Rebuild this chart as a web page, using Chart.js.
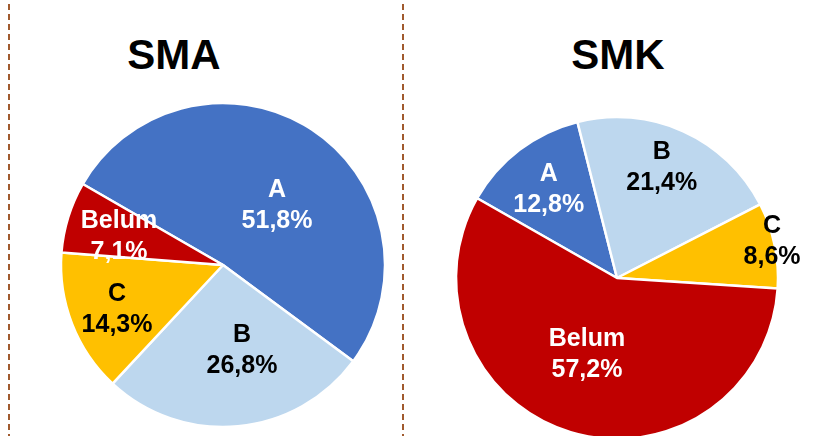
<!DOCTYPE html>
<html lang="id">
<head>
  <meta charset="UTF-8" />
  <title>SMA - SMK</title>
  <script src="https://cdn.jsdelivr.net/npm/chart.js"></script>
  <style>
    body {
      margin: 0;
      width: 822px;
      height: 436px;
      overflow: hidden;
      background: #fff;
      position: relative;
      font-family: "Liberation Sans", Arial, sans-serif;
    }
    .divider {
      position: absolute;
      top: 0;
      height: 436px;
      width: 2px;
      background: repeating-linear-gradient(to bottom, transparent 0 4px, #a05a2e 4px 10px);
    }
    .title {
      position: absolute;
      top: 34px;
      width: 200px;
      font-size: 42px;
      line-height: 42px;
      font-weight: bold;
      text-align: center;
      color: #000;
    }
    .pie {
      position: absolute;
      height: 340px;
    }
  </style>
</head>
<body>

  <div class="divider" style="left:8px"></div>
  <div class="divider" style="left:402px"></div>

  <div class="title" style="left:74px">SMA</div>
  <div class="title" style="left:518px">SMK</div>

  <div class="pie" style="left:53px; top:95px; width:340px"><canvas id="smaChart" width="340" height="340"></canvas></div>
  <div class="pie" style="left:447px; top:108px; width:375px"><canvas id="smkChart" width="375" height="340"></canvas></div>

  <script>
    // data
    const categories = ['A', 'B', 'C', 'Belum'];
    const smaValues = [51.8, 26.8, 14.3, 7.1];
    const smkValues = [12.8, 21.4, 8.6, 57.2];

    const sliceColors = ['#4472C4', '#BDD7EE', '#FFC000', '#C00000'];
    const textColors = ['#ffffff', '#000000', '#000000', '#ffffff'];

    // label placement: [fraction of radius, angle shift in degrees from mid angle]
    const smaLabelPlace = [[0.465, 12.6], [0.583, -6.3], [0.726, -4.4], [0.656, -5.3]];
    const smkLabelPlace = [[0.66, -2.7], [0.70, -0.9], [0.98, 1.1], [0.55, 3.1]];

    const fmt = v => v.toFixed(1).replace('.', ',') + '%';

    const pieLabels = {
      id: 'pieLabels',
      afterDatasetsDraw(chart, args, opts) {
        const ctx = chart.ctx;
        const arcs = chart.getDatasetMeta(0).data;
        const values = chart.data.datasets[0].data;
        ctx.save();
        ctx.font = 'bold 25px "Liberation Sans", Arial, sans-serif';
        ctx.textAlign = 'center';
        ctx.textBaseline = 'alphabetic';
        arcs.forEach((arc, i) => {
          const p = arc.getProps(['x', 'y', 'startAngle', 'endAngle', 'outerRadius'], true);
          const [f, shift] = opts.place[i];
          const a = (p.startAngle + p.endAngle) / 2 + shift * Math.PI / 180;
          const lx = p.x + Math.cos(a) * p.outerRadius * f;
          const ly = p.y + Math.sin(a) * p.outerRadius * f;
          ctx.fillStyle = textColors[i];
          ctx.fillText(chart.data.labels[i], lx, ly - 15.5);
          ctx.fillText(fmt(values[i]), lx, ly + 15.5);
        });
        ctx.restore();
      }
    };

    function makePie(id, values, rotation, radius, place, padRight) {
      new Chart(document.getElementById(id), {
        type: 'pie',
        data: {
          labels: categories,
          datasets: [{
            data: values,
            backgroundColor: sliceColors,
            borderColor: '#ffffff',
            borderWidth: 2.5,
            radius: radius
          }]
        },
        options: {
          responsive: false,
          animation: false,
          rotation: rotation,
          layout: { padding: { left: 0, top: 0, bottom: 0, right: padRight } },
          plugins: {
            legend: { display: false },
            tooltip: { enabled: false },
            title: { display: false },
            pieLabels: { place: place }
          }
        },
        plugins: [pieLabels]
      });
    }

    makePie('smaChart', smaValues, -60, 162, smaLabelPlace, 0);
    makePie('smkChart', smkValues, -60.3, 161, smkLabelPlace, 35);
  </script>

</body>
</html>
